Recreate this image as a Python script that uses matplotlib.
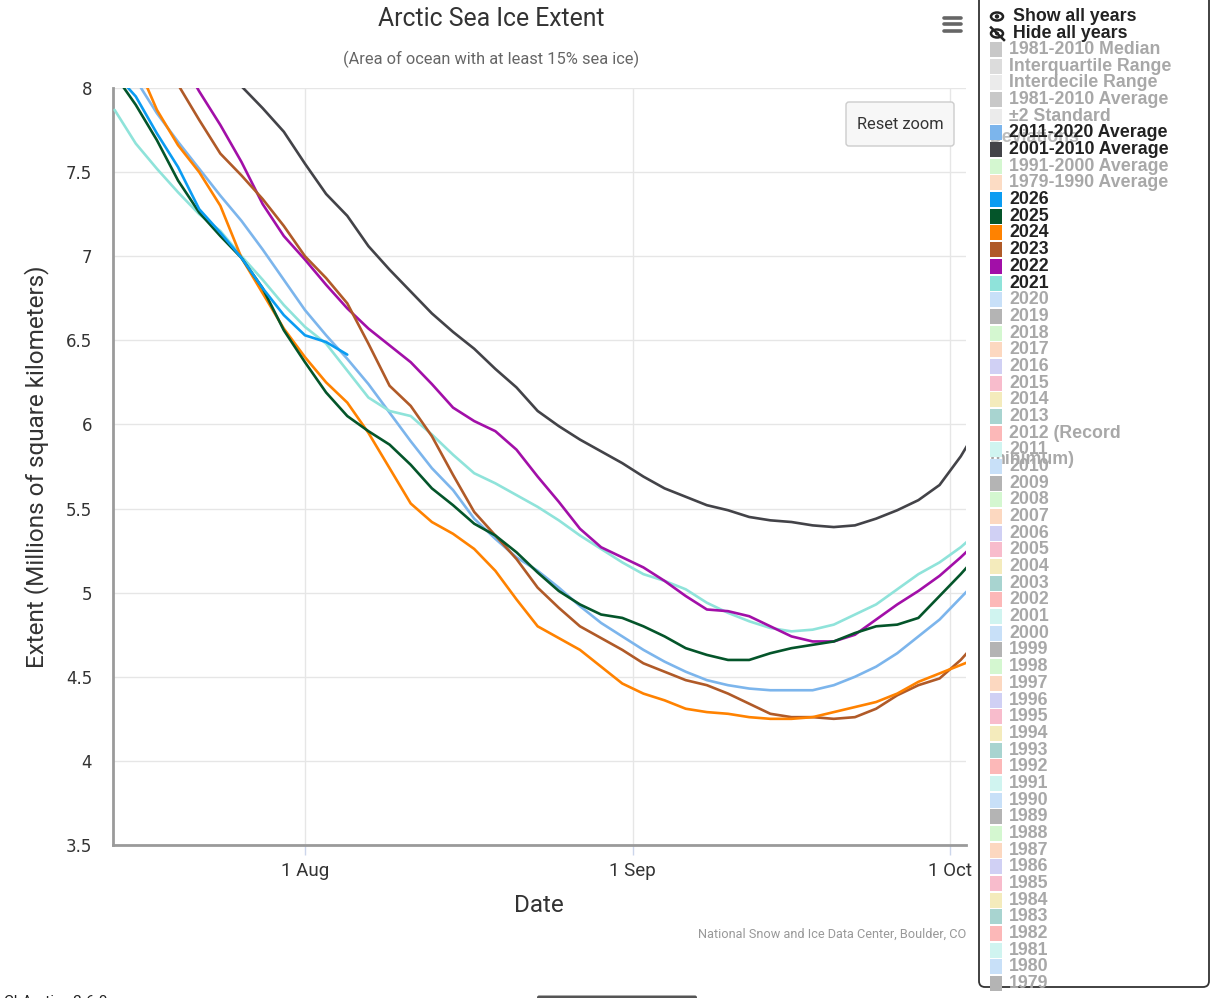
import numpy as np
import pandas as pd
import matplotlib
matplotlib.use("Agg")
import matplotlib.pyplot as plt
import matplotlib.dates as mdates
from matplotlib import font_manager
from matplotlib.patches import FancyBboxPatch, Ellipse, Circle, Rectangle
from matplotlib.ticker import FuncFormatter, MultipleLocator

# days counted from 1 Aug
days = [-18, -16, -14, -12, -10, -8, -6, -4, -2, 0, 2, 4, 6, 8, 10, 12, 14, 16, 18, 20, 22,
        24, 26, 28, 30, 32, 34, 36, 38, 40, 42, 44, 46, 48, 50, 52, 54, 56, 58, 60, 62, 64]
nan = np.nan

avg_2011_2020 = [8.18, 8.05, 7.85, 7.68, 7.52, 7.36, 7.21, 7.04, 6.86, 6.68, 6.53, 6.39, 6.24, 6.07,
                 5.90, 5.74, 5.61, 5.44, 5.32, 5.21, 5.13, 5.03, 4.92, 4.82, 4.74, 4.66, 4.59, 4.53,
                 4.48, 4.45, 4.43, 4.42, 4.42, 4.42, 4.45, 4.50, 4.56, 4.64, 4.74, 4.84, 4.97, 5.10]
avg_2001_2010 = [nan, nan, nan, nan, nan, 8.13, 8.01, 7.88, 7.74, 7.55, 7.37, 7.24, 7.06, 6.92,
                 6.79, 6.66, 6.55, 6.45, 6.33, 6.22, 6.08, 5.99, 5.91, 5.84, 5.77, 5.69, 5.62, 5.57,
                 5.52, 5.49, 5.45, 5.43, 5.42, 5.40, 5.39, 5.40, 5.44, 5.49, 5.55, 5.64, 5.81, 6.02]
y2021 = [7.87, 7.67, 7.52, 7.38, 7.25, 7.15, 7.00, 6.86, 6.71, 6.58, 6.48, 6.32, 6.16, 6.08,
         6.05, 5.94, 5.82, 5.71, 5.65, 5.58, 5.51, 5.43, 5.34, 5.26, 5.18, 5.11, 5.07, 5.02,
         4.94, 4.88, 4.83, 4.79, 4.77, 4.78, 4.81, 4.87, 4.93, 5.02, 5.11, 5.18, 5.27, 5.38]
y2022 = [nan, nan, nan, 8.20, 7.98, 7.78, 7.56, 7.31, 7.12, 6.98, 6.83, 6.69, 6.57, 6.47,
         6.37, 6.24, 6.10, 6.02, 5.96, 5.85, 5.69, 5.54, 5.38, 5.27, 5.21, 5.15, 5.07, 4.98,
         4.90, 4.89, 4.86, 4.80, 4.74, 4.71, 4.71, 4.75, 4.84, 4.93, 5.01, 5.10, 5.21, 5.33]
y2023 = [nan, nan, 8.20, 8.02, 7.81, 7.61, 7.48, 7.34, 7.18, 7.00, 6.87, 6.72, 6.48, 6.23,
         6.11, 5.93, 5.70, 5.48, 5.34, 5.20, 5.03, 4.91, 4.80, 4.73, 4.66, 4.58, 4.53, 4.48,
         4.45, 4.40, 4.34, 4.28, 4.26, 4.26, 4.25, 4.26, 4.31, 4.39, 4.45, 4.49, 4.60, 4.74]
y2024 = [nan, 8.16, 7.87, 7.66, 7.50, 7.30, 6.99, 6.78, 6.57, 6.40, 6.25, 6.13, 5.95, 5.74,
         5.53, 5.42, 5.35, 5.26, 5.13, 4.96, 4.80, 4.73, 4.66, 4.56, 4.46, 4.40, 4.36, 4.31,
         4.29, 4.28, 4.26, 4.25, 4.25, 4.26, 4.29, 4.32, 4.35, 4.40, 4.47, 4.52, 4.57, 4.62]
y2025 = [8.08, 7.90, 7.69, 7.45, 7.26, 7.12, 6.99, 6.81, 6.56, 6.37, 6.19, 6.05, 5.96, 5.88,
         5.76, 5.62, 5.52, 5.41, 5.34, 5.24, 5.12, 5.01, 4.93, 4.87, 4.85, 4.80, 4.74, 4.67,
         4.63, 4.60, 4.60, 4.64, 4.67, 4.69, 4.71, 4.76, 4.80, 4.81, 4.85, 4.98, 5.11, 5.25]
y2026 = [8.09, 7.95, 7.73, 7.53, 7.28, 7.14, 6.99, 6.81, 6.65, 6.53, 6.49, 6.415] + [nan] * 30

series = [
    ("2011-2020 Average", avg_2011_2020, "#7cb5ec"),
    ("2001-2010 Average", avg_2001_2010, "#434348"),
    ("2021", y2021, "#8fe3da"),
    ("2022", y2022, "#a20fa8"),
    ("2023", y2023, "#b05a28"),
    ("2024", y2024, "#ff8200"),
    ("2025", y2025, "#04552a"),
    ("2026", y2026, "#0a9cf2"),
]

legend_top = ["1981-2010 Median", "Interquartile Range", "Interdecile Range",
              "1981-2010 Average", "\u00b12 Standard", "2011-2020 Average",
              "2001-2010 Average", "1991-2000 Average", "1979-1990 Average"]
legend_top_colors = ["#c8c8c8", "#dcdcdc", "#ebebeb", "#c8c8c8", "#ebebeb",
                     "#7cb5ec", "#434348", "#d4f7d0", "#fcdcc4"]
legend_years = list(range(2026, 1978, -1))
pale_cycle = {0: "#c8e0f8", 9: "#b4b4b4", 8: "#d4f7d0", 7: "#fcd8c0", 6: "#d0d0f4",
              5: "#f8bccc", 4: "#f4ebbc", 3: "#a8d4d0", 2: "#fcb8b8", 1: "#d0f4f0"}

# fonts
names = {f.name for f in font_manager.fontManager.ttflist}
narrow = "Liberation Sans Narrow" if "Liberation Sans Narrow" in names else "Roboto"
boldf = "Liberation Sans" if "Liberation Sans" in names else "DejaVu Sans"

W, H = 1216, 998
fig = plt.figure(figsize=(W / 100, H / 100), dpi=100)
fig.patch.set_facecolor("white")

ax = fig.add_axes([113 / W, 1 - 845 / H, (966 - 113) / W, (845 - 88) / H])
base = pd.Timestamp("2025-08-01")
xdates = base + pd.to_timedelta(days, unit="D")

for name, vals, col in series:
    ax.plot(xdates, vals, color=col, lw=1.9, solid_joinstyle="round", solid_capstyle="round",
            zorder=3)

ax.set_xlim(base - pd.Timedelta(days=18.15), base + pd.Timedelta(days=62.5))
ax.set_ylim(3.5, 8)
ax.yaxis.set_major_locator(MultipleLocator(0.5))
ax.yaxis.set_major_formatter(FuncFormatter(lambda v, p: f"{v:g}"))
ax.xaxis.set_major_locator(mdates.MonthLocator(bymonthday=1))
ax.xaxis.set_major_formatter(FuncFormatter(
    lambda v, p: f"{mdates.num2date(v).day} {mdates.num2date(v):%b}"))

ax.grid(True, color="#e6e6e6", lw=1.0)
ax.set_axisbelow(True)
for s in ["top", "right"]:
    ax.spines[s].set_visible(False)
for s in ["left", "bottom"]:
    ax.spines[s].set_color("#9a9a9a")
    ax.spines[s].set_linewidth(2.0)
ax.tick_params(axis="y", length=0, pad=15, labelsize=12, labelcolor="#333333")
ax.tick_params(axis="x", length=7, width=1, color="#ccd6eb", pad=5, labelsize=13.5,
               labelcolor="#333333")
for lab in ax.get_xticklabels():
    lab.set_fontfamily(narrow)

# full-figure overlay in pixel coords
ov = fig.add_axes([0, 0, 1, 1], facecolor="none")
ov.set_xlim(0, W)
ov.set_ylim(H, 0)
ov.axis("off")

ov.text(491, 19, "Arctic Sea Ice Extent", ha="center", va="center", fontsize=17.8,
        family=narrow, color="#333333")
ov.text(491, 59, "(Area of ocean with at least 15% sea ice)", ha="center", va="center",
        fontsize=11.8, family=narrow, color="#666666")
ov.text(37, 467, "Extent (Millions of square kilometers)", ha="center", va="center",
        rotation=90, fontsize=17.5, family=narrow, color="#333333")
ov.text(539, 906, "Date", ha="center", va="center", fontsize=17.5, family=narrow,
        color="#333333")
ov.text(966, 934, "National Snow and Ice Data Center, Boulder, CO", ha="right", va="center",
        fontsize=9.2, family=narrow, color="#999999")

# reset zoom button
ov.add_patch(FancyBboxPatch((846, 102), 108, 44, boxstyle="round,pad=0,rounding_size=3",
                            fc="#f7f7f7", ec="#cccccc", lw=1))
ov.text(900, 124, "Reset zoom", ha="center", va="center", fontsize=11.8, family=narrow,
        color="#333333")

# hamburger
for yy in (17.5, 24, 30.5):
    ov.plot([944, 961], [yy, yy], color="#666666", lw=2.6, solid_capstyle="round")

# legend panel
ov.add_patch(FancyBboxPatch((979, -20), 230, 1007, boxstyle="round,pad=0,rounding_size=6",
                            fc="white", ec="#333333", lw=1.3))

fs_leg = 12.8
# eye icons
ov.add_patch(Ellipse((997, 16.5), 12, 8, fc="none", ec="#222222", lw=1.8))
ov.add_patch(Circle((997, 16.5), 2.2, fc="#222222", ec="none"))
ov.add_patch(Ellipse((997, 33.5), 12, 8, fc="none", ec="#222222", lw=1.8))
ov.add_patch(Circle((997, 33.5), 2.0, fc="#222222", ec="none"))
ov.plot([991, 1004], [27.5, 40], color="#222222", lw=1.8)
ov.text(1013, 16, "Show all years", ha="left", va="center", fontsize=fs_leg,
        family=boldf, weight="bold", color="#222222")
ov.text(1013, 33, "Hide all years", ha="left", va="center", fontsize=fs_leg,
        family=boldf, weight="bold", color="#222222")

active = {}
for name, vals, col in series:
    active[name] = col

rows = []
for lab, col in zip(legend_top, legend_top_colors):
    rows.append((lab, active.get(lab, col)))
for yr in legend_years:
    lab = "2012 (Record" if yr == 2012 else str(yr)
    rows.append((lab, active.get(str(yr), pale_cycle[yr % 10])))

y0, dy = 49.5, 16.68
# wrapped second lines, drawn under the rows
ov.text(990, y0 + 5.3 * dy, "Deviations", ha="left", va="center", fontsize=fs_leg,
        family=boldf, weight="bold", color="#bdbdbd", zorder=1)
ov.text(990, y0 + 24.6 * dy, "minimum)", ha="left", va="center", fontsize=fs_leg,
        family=boldf, weight="bold", color="#a9a9a9", zorder=1)
for i, (lab, col) in enumerate(rows):
    yy = y0 + i * dy
    on = lab in active
    ov.add_patch(Rectangle((990, yy - 7.5), 12, 15, fc=col, ec="none", zorder=2))
    ov.text(1009, yy, lab, ha="left", va="center", fontsize=fs_leg, family=boldf,
            weight="bold", color="#222222" if on else "#a8a8a8", zorder=3)

# cut-off footer
ov.text(4, 1002, "ChArctic v2.6.0", ha="left", va="center", fontsize=11, family=narrow,
        color="#222222")
ov.add_patch(FancyBboxPatch((537, 995.5), 160, 6, boxstyle="round,pad=0,rounding_size=2",
                            fc="#555555", ec="none"))

fig.savefig("out.png", dpi=100)
